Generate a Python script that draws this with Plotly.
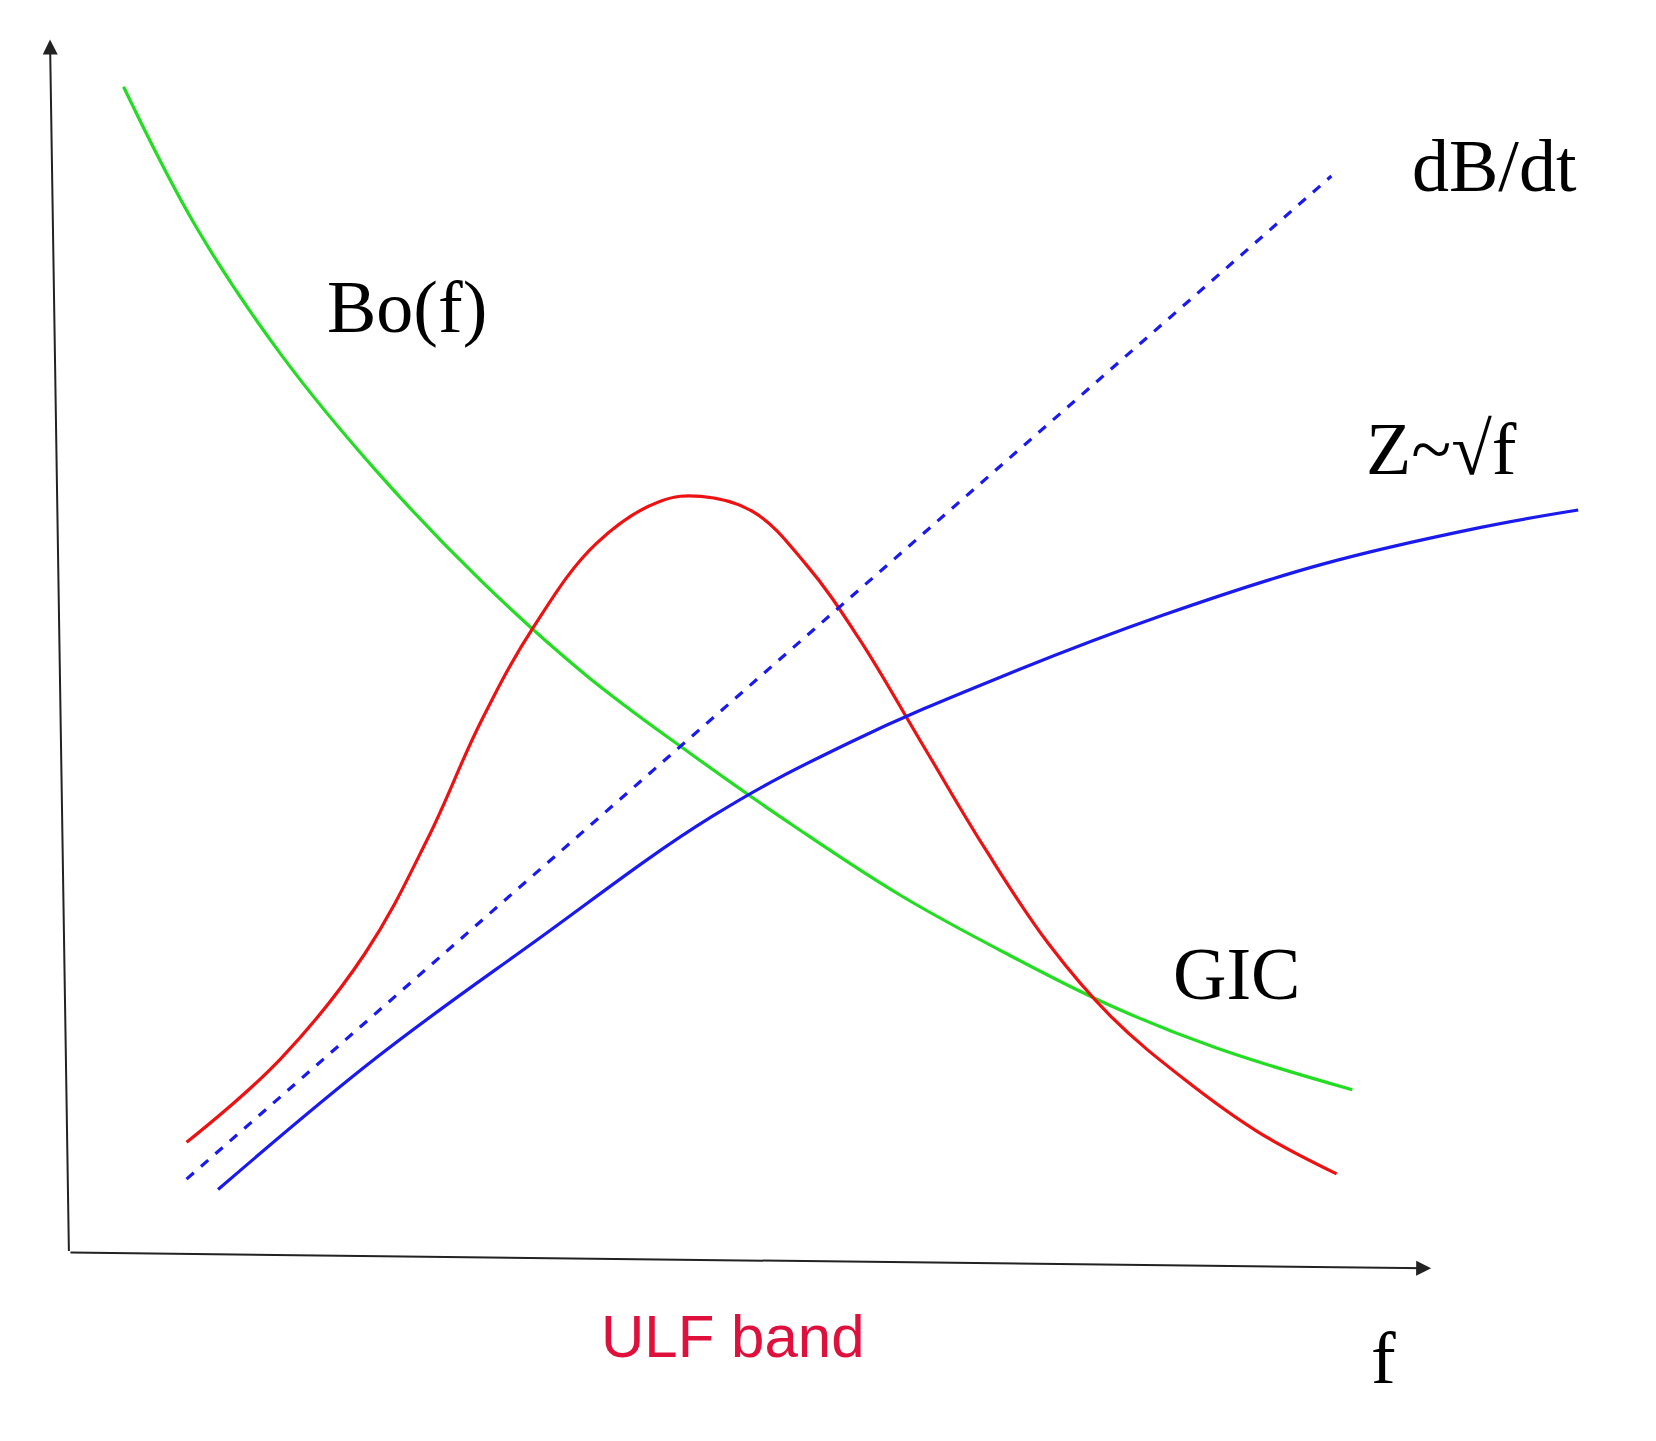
import plotly.graph_objects as go

D = 1372  # reference display units
green_x = [110,180,260,350,450,550,650,750,850,950,1050,1150,1280]
green_y = [75,210,330,440,545,635,710,780,845,900,950,990,1030]
red_x = [170,260,340,400,450,500,560,620,660,710,760,810,870,930,990,1050,1120,1190,1265]
red_y = [1080,1000,900,790,680,590,510,470,465,480,530,600,700,800,890,960,1020,1070,1110]
dash_x = [170,1260]
dash_y = [1115,160]
blue_x = [200,350,500,670,800,950,1100,1250,1400,1495]
blue_y = [1125,1000,890,770,700,635,578,530,495,478]

fig = go.Figure()
def tr(x, y, color, dash="solid"):
    fig.add_trace(go.Scatter(x=x, y=[D - v for v in y], mode="lines",
                             line=dict(color=color, width=3.2, dash=dash, shape="spline", smoothing=1.1),
                             showlegend=False, hoverinfo="skip"))
tr(green_x, green_y, "#22dd22")
tr(red_x, red_y, "#ee1111")
tr(dash_x, dash_y, "#1a1aee", "dash")
tr(blue_x, blue_y, "#1a1aee")

for (x0, y0, x1, y1) in [(58, 1185, 40, 30), (58, 1185, 1355, 1200)]:
    fig.add_annotation(x=x1, y=D - y1, ax=x0, ay=D - y0, xref="x", yref="y", axref="x", ayref="y",
                       showarrow=True, arrowhead=2, arrowsize=1.5, arrowwidth=2, arrowcolor="#222", text="")

serif = "Liberation Serif"
labels = [("dB/dt", 1415, 150, 74, serif, "black"),
          ("Bo(f)", 380, 285, 74, serif, "black"),
          ("Z~√f", 1365, 420, 74, serif, "black"),
          ("GIC", 1170, 920, 74, serif, "black"),
          ("f", 1310, 1285, 74, serif, "black"),
          ("ULF band", 690, 1265, 60, "Liberation Sans", "#e0103c")]
for t, x, y, s, f, c in labels:
    fig.add_annotation(x=x, y=D - y, text=t, showarrow=False, font=dict(size=s, family=f, color=c))

fig.update_layout(width=1656, height=1441, margin=dict(l=0, r=0, t=0, b=0),
                  plot_bgcolor="white", paper_bgcolor="white",
                  xaxis=dict(range=[0, 1656 * D / 1441], visible=False),
                  yaxis=dict(range=[0, D], visible=False))
fig.write_html("out.html")
